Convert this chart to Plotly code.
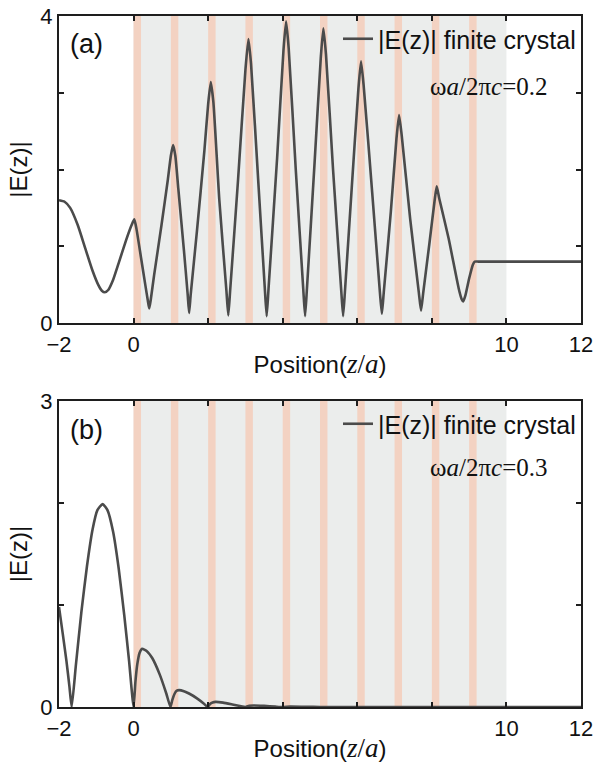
import plotly.graph_objects as go

# ---------------- data ----------------
# panel (a): omega a / 2 pi c = 0.2
za_x = [-2.00, -1.85, -1.70, -1.50, -1.30, -1.10, -0.95, -0.85, -0.77, -0.68, -0.55, -0.40, -0.20, -0.05, 0.02,
        0.08, 0.20, 0.32, 0.38, 0.42, 0.46,
        0.55, 0.75, 0.92, 1.00, 1.06, 1.12,
        1.20, 1.35, 1.45, 1.49, 1.53,
        1.70, 1.90, 2.00, 2.07, 2.14,
        2.30, 2.49, 2.54, 2.59,
        2.80, 3.00, 3.08, 3.15,
        3.35, 3.52, 3.57, 3.62,
        3.85, 4.02, 4.09, 4.16,
        4.35, 4.55, 4.60, 4.65,
        4.85, 5.02, 5.09, 5.16,
        5.35, 5.57, 5.62, 5.67,
        5.85, 6.03, 6.10, 6.17,
        6.40, 6.61, 6.66, 6.71,
        6.90, 7.05, 7.12, 7.19,
        7.42, 7.65, 7.71, 7.77,
        7.93, 8.07, 8.13, 8.20,
        8.45, 8.72, 8.80, 8.84, 8.90,
        9.00, 9.10, 9.15, 9.25, 12.00]
za_y = [1.60, 1.58, 1.50, 1.28, 0.98, 0.68, 0.50, 0.42, 0.40, 0.43, 0.56, 0.78, 1.08, 1.28, 1.35,
        1.22, 0.85, 0.48, 0.30, 0.19, 0.30,
        0.62, 1.28, 1.87, 2.18, 2.32, 2.18,
        1.75, 0.95, 0.38, 0.13, 0.36,
        1.20, 2.25, 2.85, 3.14, 2.88,
        1.60, 0.42, 0.10, 0.42,
        1.85, 3.30, 3.70, 3.38,
        1.80, 0.45, 0.09, 0.45,
        2.15, 3.55, 3.93, 3.58,
        2.00, 0.45, 0.09, 0.45,
        2.05, 3.45, 3.84, 3.50,
        2.00, 0.42, 0.09, 0.42,
        1.75, 3.05, 3.41, 3.10,
        1.70, 0.38, 0.12, 0.40,
        1.45, 2.40, 2.71, 2.45,
        1.35, 0.40, 0.16, 0.40,
        1.02, 1.58, 1.78, 1.62,
        1.10, 0.45, 0.31, 0.28, 0.36,
        0.58, 0.76, 0.80, 0.80, 0.80]

# panel (b): omega a / 2 pi c = 0.3
zb_x = [-2.00, -1.90, -1.80, -1.72, -1.66,
        -1.55, -1.40, -1.25, -1.10, -0.97, -0.83, -0.70, -0.55, -0.40, -0.25, -0.12, 0.00,
        0.05, 0.10, 0.16, 0.23, 0.35, 0.50, 0.70, 0.88, 0.99,
        1.04, 1.10, 1.16, 1.22, 1.35, 1.50, 1.70, 1.88, 1.99,
        2.05, 2.12, 2.20, 2.40, 2.65, 2.85, 3.00,
        3.10, 3.22, 3.50, 3.80, 4.00,
        4.20, 4.60, 5.00, 12.00]
zb_y = [0.98, 0.72, 0.45, 0.20, 0.00,
        0.40, 0.93, 1.38, 1.74, 1.93, 1.99, 1.93, 1.72, 1.36, 0.90, 0.45, 0.00,
        0.25, 0.42, 0.53, 0.57, 0.55, 0.48, 0.32, 0.13, 0.00,
        0.07, 0.13, 0.16, 0.165, 0.155, 0.13, 0.085, 0.035, 0.00,
        0.03, 0.045, 0.05, 0.043, 0.025, 0.01, 0.00,
        0.012, 0.015, 0.011, 0.004, 0.00,
        0.004, 0.002, 0.00, 0.00]

crystal_start, crystal_end = 0, 10
layer_left = [0, 1, 2, 3, 4, 5, 6, 7, 8, 9]
layer_right = [0.2, 1.2, 2.2, 3.2, 4.2, 5.2, 6.2, 7.2, 8.2, 9.2]

x_tickvals = [-2, 0, 2, 4, 6, 8, 10, 12]
x_ticktext = ["\u22122", "0", "", "", "", "", "10", "12"]
ya_tickvals = [0, 1, 2, 3, 4]
ya_ticktext = ["0", "", "", "", "4"]
yb_tickvals = [0, 1, 2, 3]
yb_ticktext = ["0", "", "", "3"]
freq_labels = ["0.2", "0.3"]
panel_labels = ["(a)", "(b)"]
series_name = "|E(z)| finite crystal"

# ---------------- styling ----------------
W, H = 595, 764
ML, MR, MT, MB = 59, 14, 16, 57
SANS = "Arial, Liberation Sans, Helvetica, sans-serif"
SERIF = "Times New Roman, Liberation Serif, serif"
LINE_C = "#4b4b4b"
GRAY = "#ebedec"
ORANGE = "#f3d2c2"
AX_C = "#1e1e1e"

plot_h = H - MT - MB
def py(p):  # pixel y -> paper y
    return 1 - (p - MT) / plot_h
def px(p):
    return (p - ML) / (W - ML - MR)

dom_a = [py(323), 1.0]
dom_b = [0.0, py(401)]

fig = go.Figure()
fig.add_trace(go.Scatter(x=za_x, y=za_y, xaxis="x", yaxis="y", mode="lines",
                         line=dict(color=LINE_C, width=2.6, shape="spline", smoothing=0.5),
                         name=series_name, legend="legend"))
fig.add_trace(go.Scatter(x=zb_x, y=zb_y, xaxis="x2", yaxis="y2", mode="lines",
                         line=dict(color=LINE_C, width=2.6, shape="spline", smoothing=0.5),
                         name=series_name, legend="legend2"))

shapes = []
for xr, yr in (("x", "y domain"), ("x2", "y2 domain")):
    shapes.append(dict(type="rect", xref=xr, yref=yr, x0=crystal_start, x1=crystal_end,
                       y0=0, y1=1, fillcolor=GRAY, line=dict(width=0), layer="below"))
    for l, r in zip(layer_left, layer_right):
        shapes.append(dict(type="rect", xref=xr, yref=yr, x0=l, x1=r, y0=0, y1=1,
                           fillcolor=ORANGE, line=dict(width=0), layer="below"))

xtitle = ("Position(<span style=\"font-family:Liberation Serif, Times New Roman, serif; font-size:27px\">"
          "<i>z</i>/<i>a</i></span>)")

def xaxis(dom_anchor):
    return dict(domain=[0, 1], anchor=dom_anchor, range=[-2, 12], automargin=False,
                tickmode="array", tickvals=x_tickvals, ticktext=x_ticktext,
                ticks="inside", ticklen=5, tickwidth=1.5, tickcolor=AX_C,
                showline=True, linewidth=2.2, linecolor=AX_C, mirror="ticks",
                showgrid=False, zeroline=False,
                tickfont=dict(family=SANS, size=22, color="#111"),
                title=dict(text=xtitle, font=dict(family=SANS, size=24, color="#111"), standoff=1))

def yaxis(dom, rng, tv, tt, xa):
    return dict(domain=dom, anchor=xa, range=rng, automargin=False,
                tickmode="array", tickvals=tv, ticktext=tt,
                ticks="inside", ticklen=5, tickwidth=1.5, tickcolor=AX_C,
                showline=True, linewidth=2.2, linecolor=AX_C, mirror="ticks",
                showgrid=False, zeroline=False,
                tickfont=dict(family=SANS, size=22, color="#111"),
                title=dict(text="|E(z)|", font=dict(family=SANS, size=24, color="#111"), standoff=6))

annotations = []
for lab, yc in zip(panel_labels, (44, 430)):
    annotations.append(dict(text=lab, xref="paper", yref="paper", x=px(86), y=py(yc),
                            xanchor="center", yanchor="middle", showarrow=False,
                            font=dict(family=SANS, size=27, color="#111")))
for f, yc in zip(freq_labels, (86, 467)):
    annotations.append(dict(text="\u03c9<i>a</i>/2\u03c0<i>c</i>=" + f, xref="paper", yref="paper",
                            x=px(489), y=py(yc), xanchor="center", yanchor="middle", showarrow=False,
                            font=dict(family=SERIF, size=25, color="#111")))

leg_common = dict(xanchor="right", yanchor="middle", bgcolor="rgba(0,0,0,0)",
                  font=dict(family=SANS, size=25, color="#111"), itemwidth=30,
                  borderwidth=0, tracegroupgap=0)

fig.update_layout(
    width=W, height=H, margin=dict(l=ML, r=MR, t=MT, b=MB, autoexpand=False),
    paper_bgcolor="white", plot_bgcolor="white",
    xaxis=xaxis("y"), yaxis=yaxis(dom_a, [0, 4], ya_tickvals, ya_ticktext, "x"),
    xaxis2=xaxis("y2"), yaxis2=yaxis(dom_b, [0, 3], yb_tickvals, yb_ticktext, "x2"),
    shapes=shapes, annotations=annotations,
    legend=dict(x=1.0, y=py(39), **leg_common),
    legend2=dict(x=1.0, y=py(424), **leg_common),
    showlegend=True,
)

fig.write_html("out.html")
